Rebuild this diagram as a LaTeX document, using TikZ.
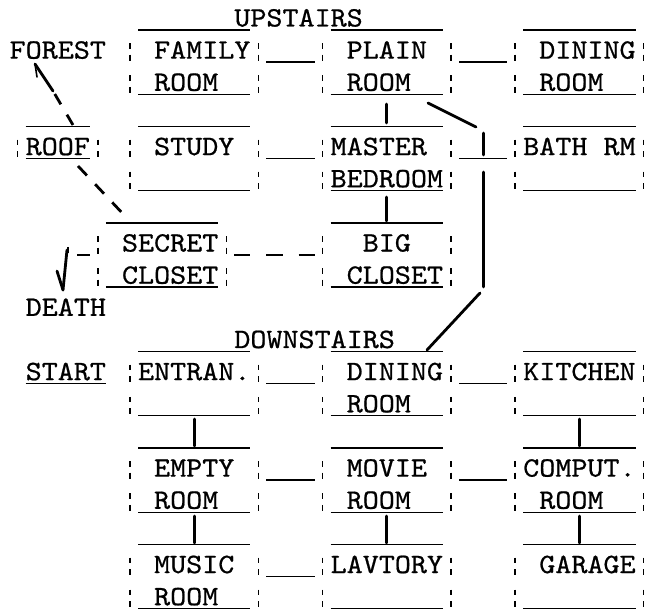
\documentclass[tikz,border=0pt]{standalone}
\usepackage{fontspec}
\setmonofont{lmmono10-regular.otf}[FakeStretch=1.092,FakeBold=0.7]
\def\cL#1{-6.4+16.05*(#1)}
\def\cC#1{1.625+16.05*(#1)}
\def\rB#1{26.5+32.15*(#1)}
\def\rU#1{30+32.15*(#1)}
\def\rT#1{10.5+32.15*(#1)}
\tikzset{
  txt/.style={font=\ttfamily\fontsize{28}{32}\selectfont, inner sep=0pt, outer sep=0pt, anchor=base west},
  uline/.style={line width=1.4pt, line cap=butt},
  colonmark/.style={line width=1.5pt},
  conn/.style={line width=2.8pt, line cap=round},
  dconn/.style={line width=2.8pt, dash pattern=on 12pt off 12pt},
}
\newcommand\UL[3]{\draw[uline] ({\cL{#2}},{\rU{#1}}) -- ({\cL{#3+1}},{\rU{#1}});}
\newcommand\CO[2]{\draw[colonmark] ({\cC{#2}},{\rT{#1}+0.5}) -- ({\cC{#2}},{\rT{#1}+6}) ({\cC{#2}},{\rB{#1}-4}) -- ({\cC{#2}},{\rB{#1}+2});}
\newcommand\TX[4]{\node[txt] (#1) at ({\cL{#3}},{\rB{#2}}) {#4};}
\begin{document}
\begin{tikzpicture}[x=1pt,y=-1pt]
\fill[white] (0,0) rectangle (659,612);
\useasboundingbox (0,0) rectangle (659,612);
% ---------- texts ----------
\TX{up}{0}{15}{UPSTAIRS}
\TX{forest}{1}{1}{FOREST}
\TX{family}{1}{10}{FAMILY}
\TX{plain}{1}{22}{PLAIN}
\TX{dining}{1}{34}{DINING}
\TX{familyb}{2}{10}{ROOM}
\TX{plainb}{2}{22}{ROOM}
\TX{diningb}{2}{34}{ROOM}
\TX{roof}{4}{2}{ROOF}
\TX{study}{4}{10}{STUDY}
\TX{master}{4}{21}{MASTER}
\TX{bath}{4}{33}{BATH RM}
\TX{masterb}{5}{21}{BEDROOM}
\TX{secret}{7}{8}{SECRET}
\TX{big}{7}{23}{BIG}
\TX{secretb}{8}{8}{CLOSET}
\TX{bigb}{8}{22}{CLOSET}
\TX{death}{9}{2}{DEATH}
\TX{down}{10}{15}{DOWNSTAIRS}
\TX{start}{11}{2}{START}
\TX{entran}{11}{9}{ENTRAN.}
\TX{ddining}{11}{22}{DINING}
\TX{kitchen}{11}{33}{KITCHEN}
\TX{ddiningb}{12}{22}{ROOM}
\TX{empty}{14}{10}{EMPTY}
\TX{movie}{14}{22}{MOVIE}
\TX{comput}{14}{33}{COMPUT.}
\TX{emptyb}{15}{10}{ROOM}
\TX{movieb}{15}{22}{ROOM}
\TX{computb}{15}{34}{ROOM}
\TX{music}{17}{10}{MUSIC}
\TX{lav}{17}{21}{LAVTORY}
\TX{garage}{17}{34}{GARAGE}
\TX{musicb}{18}{10}{ROOM}
% ---------- underscores (box edges) ----------
\foreach \k in {0,2,3,5,10,12,13,15,16,18} {\UL{\k}{9}{15}\UL{\k}{21}{27}}
\foreach \k in {0,2,3,5,10,12,13,15,16,18} {\UL{\k}{33}{39}}
\UL{3}{2}{5}\UL{4}{2}{5}
\UL{6}{7}{13}\UL{6}{21}{27}
\UL{8}{7}{13}\UL{8}{21}{27}
\UL{11}{2}{6}
\foreach \k in {1,4,11,14,17} {\UL{\k}{17}{19}}
\foreach \k in {1,4,11,14} {\UL{\k}{29}{31}}
\UL{7}{15}{15}\UL{7}{17}{17}\UL{7}{19}{19}
\draw[uline] (77,{\rU{7}}) -- (90,{\rU{7}});
% ---------- colons (box sides) ----------
\foreach \k in {1,2,4,5,11,12,14,15,17,18} {
  \foreach \c in {8,16,20,28,32,40} {\CO{\k}{\c}}
}
\CO{4}{1}\CO{4}{6}
\foreach \k in {7,8} {\foreach \c in {6,14,20,28} {\CO{\k}{\c}}}
% ---------- connector end points ----------
\coordinate (pmA) at ({\cC{24}},104);
\coordinate (pmB) at ({\cC{24}},123);
\coordinate (mbA) at ({\cC{24}},197);
\coordinate (mbB) at ({\cC{24}},221);
\coordinate (stA) at (428,103);
\coordinate (stB) at (476,127);
\coordinate (stC) at ({\cC{30}},133);
\coordinate (stD) at ({\cC{30}},155);
\coordinate (stE) at ({\cC{30}},172);
\coordinate (stF) at ({\cC{30}},287);
\coordinate (stG) at (480,293);
\coordinate (stH) at (427,350);
\coordinate (eeA) at ({\cC{12}},419);
\coordinate (eeB) at ({\cC{12}},446);
\coordinate (kcA) at ({\cC{36}},419);
\coordinate (kcB) at ({\cC{36}},446);
\coordinate (emA) at ({\cC{12}},516);
\coordinate (emB) at ({\cC{12}},543);
\coordinate (mlA) at ({\cC{24}},516);
\coordinate (mlB) at ({\cC{24}},543);
\coordinate (cgA) at ({\cC{36}},516);
\coordinate (cgB) at ({\cC{36}},543);
\coordinate (rfA) at (73,125);
\coordinate (rfB) at (53,91);
\coordinate (rfTip) at (35,64);
\coordinate (rfBarb) at (37,77);
\coordinate (rsA) at (78,166);
\coordinate (rsB) at (125,216);
\coordinate (dtA) at (67,250);
\coordinate (dtTip) at (63,290);
\coordinate (dtBarb) at (57,271);
% ---------- connectors ----------
\draw[conn] (pmA) -- (pmB);
\draw[conn] (mbA) -- (mbB);
\draw[conn] (stA) -- (stB);
\draw[conn] (stC) -- (stD);
\draw[conn] (stE) -- (stF);
\draw[conn] (stG) -- (stH);
\draw[conn] (eeA) -- (eeB);
\draw[conn] (kcA) -- (kcB);
\draw[conn] (emA) -- (emB);
\draw[conn] (mlA) -- (mlB);
\draw[conn] (cgA) -- (cgB);
% roof -> forest (dashed, arrow at forest)
\draw[dconn] (rfA) -- (rfB);
\draw[conn] (rfB) -- (rfTip);
\draw[line width=1.6pt, line cap=round] (rfTip) -- (rfBarb);
% roof -> secret closet (dashed)
\draw[line width=2.8pt, dash pattern=on 13pt off 12pt] (rsA) -- (rsB);
% secret closet -> death
\draw[line width=1.2pt] (68,247) -- (68,253);
\draw[conn] (dtA) -- (dtTip);
\draw[conn] (dtBarb) -- (dtTip);
\end{tikzpicture}
\end{document}
